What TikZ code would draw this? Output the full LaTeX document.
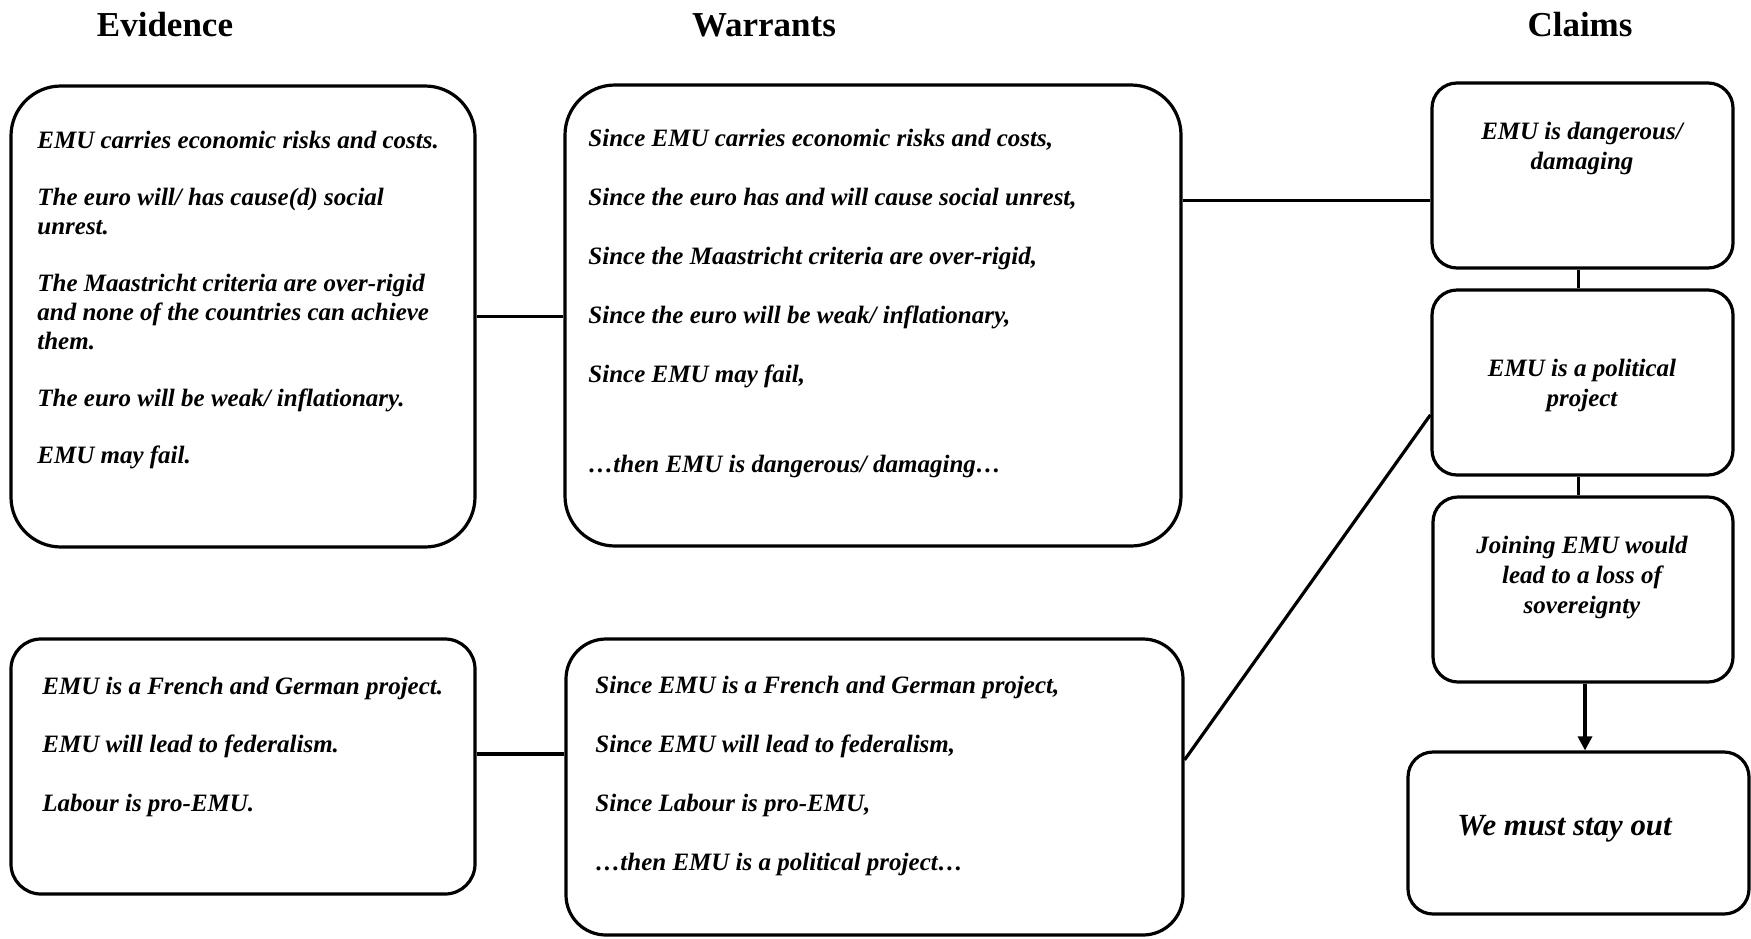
\documentclass[tikz,border=0pt]{standalone}
\usepackage{fontspec}
\setmainfont{Liberation Serif}
\usetikzlibrary{arrows.meta}
\tikzset{
  box/.style={draw, line width=1.6pt, inner sep=0pt, rounded corners=#1},
  box/.default=12.5pt,
  txt/.style={inner sep=0pt, align=left, anchor=base west,
    font=\bfseries\itshape\fontsize{12.5}{14.5}\selectfont},
  ctxt/.style={inner sep=0pt, align=center, anchor=base,
    font=\bfseries\itshape\fontsize{12.5}{15}\selectfont},
  head/.style={inner sep=0pt, anchor=base, font=\bfseries\fontsize{17.5}{20}\selectfont},
  link/.style={line width=1.6pt},
}
\begin{document}
\begin{tikzpicture}[x=0.5pt, y=-0.5pt]
\fill[white] (0,0) rectangle (1751,938);
\useasboundingbox (0,0) rectangle (1751,938);

% headings
\node[head] (hE) at (165,36) {Evidence};
\node[head] (hW) at (764,36) {Warrants};
\node[head] (hC) at (1580,36) {Claims};

% boxes
\node[box=25pt, minimum width=232pt, minimum height=230.5pt] (e1) at (243,316.5) {};
\node[box=25pt, minimum width=308pt, minimum height=230.5pt] (w1) at (873,315.5) {};
\node[box, minimum width=150.5pt, minimum height=92.5pt] (c1) at (1582.5,175.5) {};
\node[box, minimum width=150.5pt, minimum height=92.5pt] (c2) at (1582.5,382.5) {};
\node[box, minimum width=150pt, minimum height=92.5pt] (c3) at (1583,589.5) {};
\node[box, minimum width=170.5pt, minimum height=81pt] (c4) at (1578.5,833) {};
\node[box=15pt, minimum width=232pt, minimum height=127.5pt] (e2) at (243,766.5) {};
\node[box=20pt, minimum width=308.5pt, minimum height=148pt] (w2) at (874.5,787) {};

% texts (anchor = baseline of the last line)
\node[txt] (e1t) at (37,463) {EMU carries economic risks and costs.\\[14pt]
The euro will/ has cause(d) social\\
unrest.\\[14pt]
The Maastricht criteria are over-rigid\\
and none of the countries can achieve\\
them.\\[14pt]
The euro will be weak/ inflationary.\\[14pt]
EMU may fail.};

\node[txt] (w1t) at (588,472) {Since EMU carries economic risks and costs,\\[15pt]
Since the euro has and will cause social unrest,\\[15pt]
Since the Maastricht criteria are over-rigid,\\[15pt]
Since the euro will be weak/ inflationary,\\[15pt]
Since EMU may fail,\\[30.5pt]
…then EMU is dangerous/ damaging…};

\node[txt] (e2t) at (42,811) {EMU is a French and German project.\\[14.75pt]
EMU will lead to federalism.\\[14.75pt]
Labour is pro-EMU.};

\node[txt] (w2t) at (595,870) {Since EMU is a French and German project,\\[15pt]
Since EMU will lead to federalism,\\[15pt]
Since Labour is pro-EMU,\\[15pt]
…then EMU is a political project…};

\node[ctxt] (c1t) at (1582,169) {EMU is dangerous/\\damaging};
\node[ctxt] (c2t) at (1582,406) {EMU is a political\\project};
\node[ctxt] (c3t) at (1582,613) {Joining EMU would\\lead to a loss of\\sovereignty};
\node[txt, font=\bfseries\itshape\fontsize{15.4}{18}\selectfont] (c4t) at (1457,835) {We must stay out};

% connectors
\draw[link] (e1.east) -- (e1.east -| w1.west);
\coordinate (j1) at ([yshift=-12.5pt]c1.west);
\draw[link] (j1) -- (w1.east |- j1);
\draw[link] ([xshift=-2pt]c1.south) -- ([xshift=-2pt]c1.south |- c2.north);
\draw[link] ([xshift=-2pt]c2.south) -- ([xshift=-2pt]c2.south |- c3.north);
\draw[link, -{Triangle[width=7pt,length=7pt]}] ([xshift=1pt]c3.south) -- ([xshift=1pt]c3.south |- c4.north);
\coordinate (j2) at ([yshift=6.25pt]e2.east);
\draw[link] (j2) -- (w2.west |- j2);
\draw[link] (w2.5) -- (c2.192);
\end{tikzpicture}
\end{document}
